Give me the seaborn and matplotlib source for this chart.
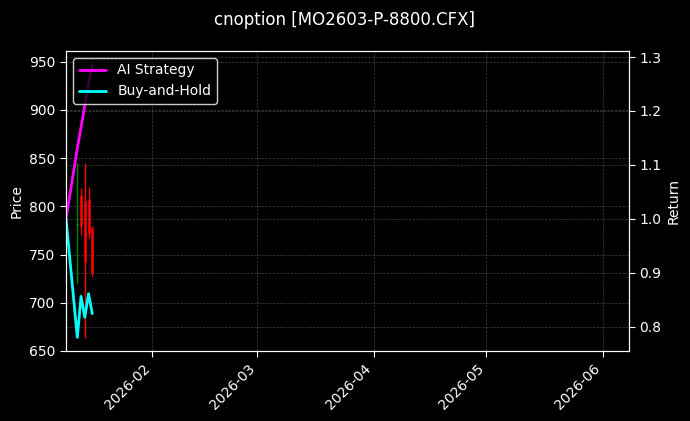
import matplotlib
matplotlib.use("Agg")
import matplotlib.pyplot as plt
import matplotlib.dates as mdates
import seaborn as sns
import pandas as pd
import numpy as np

# ---- data ----
candle_dates = ["2026-01-12", "2026-01-13", "2026-01-14", "2026-01-15", "2026-01-16"]
open_px  = [781, 812, 806, 808, 777]
high_px  = [845, 819, 845, 820, 780]
low_px   = [720, 770, 663, 767, 728]
close_px = [783, 780, 742, 772, 731]

ret_dates = ["2026-01-09", "2026-01-12", "2026-01-13", "2026-01-14", "2026-01-15", "2026-01-16"]
ai_strategy  = [1.0, 1.13, 1.17, 1.21, 1.25, 1.286]
buy_and_hold = [1.0, 0.78, 0.856, 0.817, 0.861, 0.824]

title = "cnoption [MO2603-P-8800.CFX]"
x_start, x_end = "2026-01-09", "2026-06-08"

# ---- style ----
plt.style.use("dark_background")
sns.set_style("dark", {"axes.facecolor": "black", "figure.facecolor": "black",
                       "axes.edgecolor": "white", "text.color": "white",
                       "axes.labelcolor": "white", "xtick.color": "white",
                       "ytick.color": "white", "xtick.bottom": True, "ytick.left": True})
plt.rcParams['font.family'] = ['DejaVu Sans']

fig = plt.figure(figsize=(6.9, 4.21), dpi=100)
ax = fig.add_axes([0.0957, 0.1663, 0.8159, 0.7126])
ax2 = ax.twinx()

cd = pd.to_datetime(candle_dates)
o = np.array(open_px); c = np.array(close_px)
colors = np.where(c >= o, "green", "red")
ax.vlines(cd, low_px, high_px, colors=colors, linewidth=1.0)
ax.vlines(cd, np.minimum(o, c), np.maximum(o, c), colors=colors, linewidth=1.8)

df = pd.DataFrame({"date": pd.to_datetime(ret_dates),
                   "AI Strategy": ai_strategy, "Buy-and-Hold": buy_and_hold})
sns.lineplot(data=df, x="date", y="AI Strategy", ax=ax2, color="magenta", linewidth=2, label="AI Strategy")
sns.lineplot(data=df, x="date", y="Buy-and-Hold", ax=ax2, color="cyan", linewidth=2, label="Buy-and-Hold")

ax.set_xlim(pd.Timestamp(x_start), pd.Timestamp(x_end))
ax.set_ylim(650, 961)
ax2.set_ylim(0.7547, 1.3113)

ax.set_ylabel("Price", color="white")
ax2.set_ylabel("Return", color="white")
ax.set_xlabel("")
ax2.set_xlabel("")

ax.xaxis.set_major_locator(mdates.MonthLocator())
ax.xaxis.set_major_formatter(mdates.DateFormatter("%Y-%m"))
for lbl in ax.get_xticklabels():
    lbl.set_rotation(45)
    lbl.set_ha("right")

for a in (ax, ax2):
    a.grid(True, color="gray", linestyle="--", linewidth=0.5, alpha=0.5)
    a.tick_params(colors="white", length=4)
    for s in a.spines.values():
        s.set_color("white")
ax.set_axisbelow(True)

leg = ax2.legend(loc="upper left", facecolor="black", edgecolor="white", framealpha=0.8)
for t in leg.get_texts():
    t.set_color("white")

fig.suptitle(title, color="white", fontsize=12, y=0.975)
fig.savefig("out.png", dpi=100, facecolor="black")
